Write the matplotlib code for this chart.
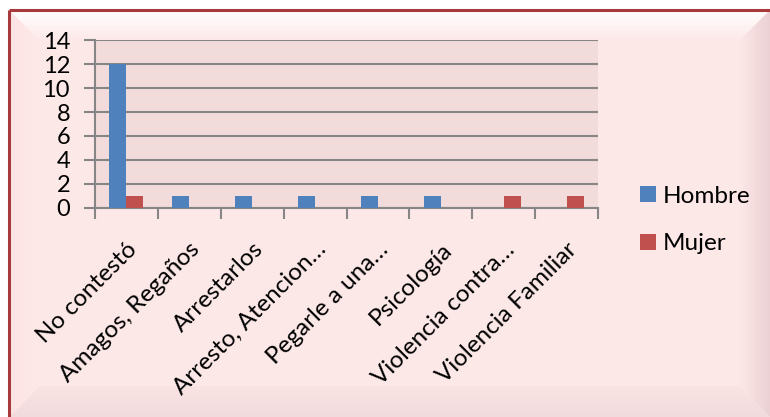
import numpy as np
import matplotlib.pyplot as plt
from matplotlib.colors import to_rgb
from matplotlib.patches import Polygon, Rectangle

categorias = ["No contestó", "Amagos, Regaños", "Arrestarlos", "Arresto, Atencion…",
              "Pegarle a una…", "Psicología", "Violencia contra…", "Violencia Familiar"]
hombre = [12, 1, 1, 1, 1, 1, 0, 0]
mujer = [1, 0, 0, 0, 0, 0, 1, 1]
yticks = [0, 2, 4, 6, 8, 10, 12, 14]

AZUL = "#4f81bd"
ROJO = "#c0504d"
GRIS = "#868686"

plt.rcParams['font.family'] = ['Lato', 'DejaVu Sans']

W, H = 770, 417
fig = plt.figure(figsize=(W / 100, H / 100), dpi=100)
fig.patch.set_facecolor("white")

# marco biselado de fondo (coordenadas en pixeles)
bg = fig.add_axes([0, 0, 1, 1])
bg.set_xlim(0, W)
bg.set_ylim(H, 0)
bg.axis("off")


def fill_grad(poly, c0, c1, horizontal=False):
    p = Polygon(poly, closed=True, facecolor="none", edgecolor="none")
    bg.add_patch(p)
    xs = [q[0] for q in poly]
    ys = [q[1] for q in poly]
    g = np.linspace(0, 1, 64)
    g = g[None, :] if horizontal else g[:, None]
    c0 = np.array(to_rgb(c0))
    c1 = np.array(to_rgb(c1))
    img = c0 + (c1 - c0) * g[..., None]
    im = bg.imshow(img, extent=[min(xs), max(xs), max(ys), min(ys)],
                   aspect="auto", interpolation="bilinear", zorder=1)
    im.set_clip_path(p)


x0, y0 = 9, 10
b = 31
ROSA = "#fde8e8"
bg.add_patch(Rectangle((x0, y0), W - x0, H - y0, facecolor=ROSA, edgecolor="none", zorder=0))
fill_grad([(x0, y0), (W, y0), (W - b, y0 + b), (x0 + b, y0 + b)], "#ffffff", ROSA)
fill_grad([(W, y0), (W, H), (W - b, H - b), (W - b, y0 + b)], ROSA, "#ebd1d3", horizontal=True)
fill_grad([(x0, H), (W, H), (W - b, H - b), (x0 + b, H - b)], "#f9e3e3", "#f1dbdc")
fill_grad([(x0, y0), (x0 + b, y0 + b), (x0 + b, H - b), (x0, H)], "#fde4e4", ROSA, horizontal=True)
bg.plot([x0, W], [y0, y0], color="#a83a3c", lw=2.2, zorder=3, solid_capstyle="butt")
bg.plot([x0, x0], [y0, H], color="#a83a3c", lw=2.2, zorder=3, solid_capstyle="butt")

# grafico de barras
ax = fig.add_axes([95 / W, 1 - 208 / H, (598 - 95) / W, (208 - 40) / H])
ax.set_facecolor("#f2dcdb")
x = np.arange(len(categorias))
w = 0.27
ax.bar(x - w / 2, hombre, w, color=AZUL, label="Hombre", zorder=3)
ax.bar(x + w / 2, mujer, w, color=ROJO, label="Mujer", zorder=3)

ax.set_xlim(-0.5, len(categorias) - 0.5)
ax.set_ylim(0, 14)
ax.set_yticks(yticks)
ax.set_yticklabels([str(v) for v in yticks], fontsize=17)
ax.yaxis.grid(True, color=GRIS, lw=1.5, zorder=0)
ax.set_axisbelow(True)

ax.set_xticks(np.arange(len(categorias) + 1) - 0.5)
ax.set_xticklabels([])
ax.set_xticks(x, minor=True)
ax.set_xticklabels(categorias, minor=True, rotation=45, ha="right",
                   rotation_mode="anchor", fontsize=17.5)
ax.tick_params(axis="x", which="minor", length=0, pad=22)
ax.tick_params(axis="x", which="major", length=8, width=1.5, color=GRIS)
ax.tick_params(axis="y", length=8, width=1.5, color=GRIS, pad=10)

for s in ["top", "right"]:
    ax.spines[s].set_visible(False)
for s in ["left", "bottom"]:
    ax.spines[s].set_color(GRIS)
    ax.spines[s].set_linewidth(1.5)

leg = fig.legend(loc="upper left", bbox_to_anchor=(630 / W, 1 - 176 / H),
                 frameon=False, fontsize=17.5, handlelength=0.65, handleheight=0.65,
                 handletextpad=0.3, labelspacing=1.1, borderaxespad=0)

fig.savefig("out.png", dpi=100, facecolor="white")
